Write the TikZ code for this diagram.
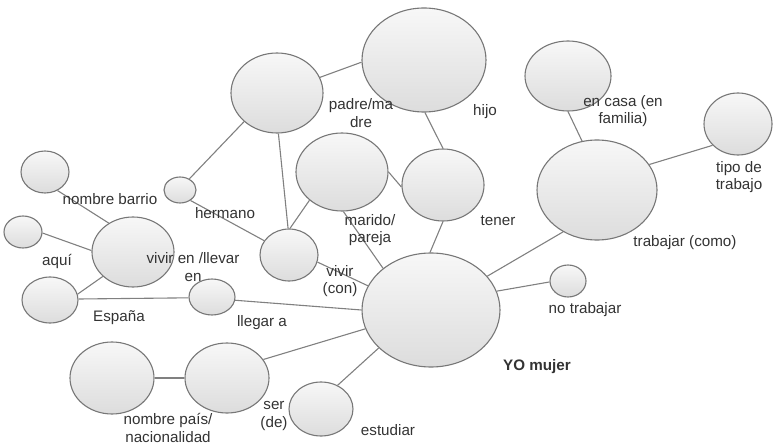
\documentclass[tikz,border=0pt]{standalone}
\usepackage{fontspec}
\setmainfont{Liberation Sans}
\usetikzlibrary{shapes.geometric}
\definecolor{txt}{HTML}{333333}
\definecolor{edge}{HTML}{808080}
\definecolor{rim}{HTML}{777777}
\tikzset{
  bub/.style={ellipse, draw=rim, line width=1.1pt, top color=gray!6, bottom color=gray!27, inner sep=0pt},
  lab/.style={text=txt, align=center, inner sep=0pt, font=\fontsize{15.2}{17.5}\selectfont},
  link/.style={draw=edge, line width=1.1pt}
}
\newcommand{\bubble}[5]{\node[bub, minimum width=#4pt, minimum height=#5pt] (#1) at (#2,#3) {};}
\begin{document}
\begin{tikzpicture}[x=1pt,y=-1pt]
\useasboundingbox (0,0) rectangle (773,446);
% bubbles: name, cx, cy, width, height
\bubble{yo}{431}{310}{138}{114}
\bubble{hijo}{424}{60}{124}{104}
\bubble{padre}{277}{93}{92}{80}
\bubble{marido}{342}{172}{92}{78}
\bubble{tener}{443}{185}{82}{72}
\bubble{vivircon}{289}{255}{58}{52}
\bubble{hermano}{180}{190}{32}{26}
\bubble{barrio}{45}{172}{48}{42}
\bubble{aqui}{23}{232}{38}{32}
\bubble{viviren}{133}{252}{82}{70}
\bubble{espana}{50}{300}{56}{46}
\bubble{llegar}{212}{297}{46}{36}
\bubble{pais}{112}{378}{84}{72}
\bubble{ser}{227}{378}{84}{70}
\bubble{estudiar}{321}{409}{64}{54}
\bubble{encasa}{568}{76}{86}{70}
\bubble{tipo}{738}{124}{68}{62}
\bubble{trabajar}{597}{190}{120}{100}
\bubble{notrab}{568}{281}{36}{32}
% connectors
\draw[link] (padre.20) -- (hijo.182);
\draw[link] (hijo.-89) -- (tener.90);
\draw[link] (padre.221) -- (hermano.50);
\draw[link] (padre.-88) -- (vivircon.92);
\draw[link] (marido.221) -- (vivircon.88);
\draw[link] (marido.0) -- (tener.183);
\draw[link] (marido.-88) -- (yo.139);
\draw[link] (tener.-90) -- (yo.91);
\draw[link] (hermano.-45) -- (vivircon.150);
\draw[link] (vivircon.-14) -- (yo.159);
\draw[link] (llegar.-8) -- (yo.180);
\draw[link] (espana.2) -- (llegar.182);
\draw[link] (espana.12) -- (viviren.219);
\draw[link] (aqui.-3) -- (viviren.178);
\draw[link] (barrio.-56) -- (viviren.130);
\draw[link] (ser.27) -- (yo.196);
\draw[link] (pais.0) -- (ser.180);
\draw[link] (estudiar.55) -- (yo.216);
\draw[link] (yo.31) -- (trabajar.231);
\draw[link] (yo.16) -- (notrab.183);
\draw[link] (trabajar.107) -- (encasa.-90);
\draw[link] (trabajar.26) -- (tipo.220);
% labels
\node[lab] (lbarrio) at (110,199) {nombre barrio};
\node[lab] (lhermano) at (225,213) {hermano};
\node[lab] (laqui) at (57,261) {aquí};
\node[lab] (lviviren) at (193,267) {vivir en /llevar\\en};
\node[lab] (lespana) at (119,318) {España};
\node[lab] (lllegar) at (262,323) {llegar a};
\node[lab] (lpadre) at (361,113) {padre/ma\\dre};
\node[lab] (lhijo) at (485,112) {hijo};
\node[lab] (lmarido) at (370,230) {marido/\\pareja};
\node[lab] (ltener) at (498,221) {tener};
\node[lab] (lvivircon) at (340,281) {vivir\\(con)};
\node[lab] (lencasa) at (623,111) {en casa (en\\familia)};
\node[lab] (ltipo) at (739,177) {tipo de\\trabajo};
\node[lab] (ltrabajar) at (685,243) {trabajar (como)};
\node[lab] (lnotrab) at (585,310) {no trabajar};
\node[lab, font=\fontsize{15.2}{17.5}\selectfont\bfseries] (lyo) at (537,367) {YO mujer};
\node[lab] (lpais) at (168,428) {nombre país/\\nacionalidad};
\node[lab] (lser) at (274,416) {ser\\(de)};
\node[lab] (lestudiar) at (388,430) {estudiar};
\end{tikzpicture}
\end{document}
